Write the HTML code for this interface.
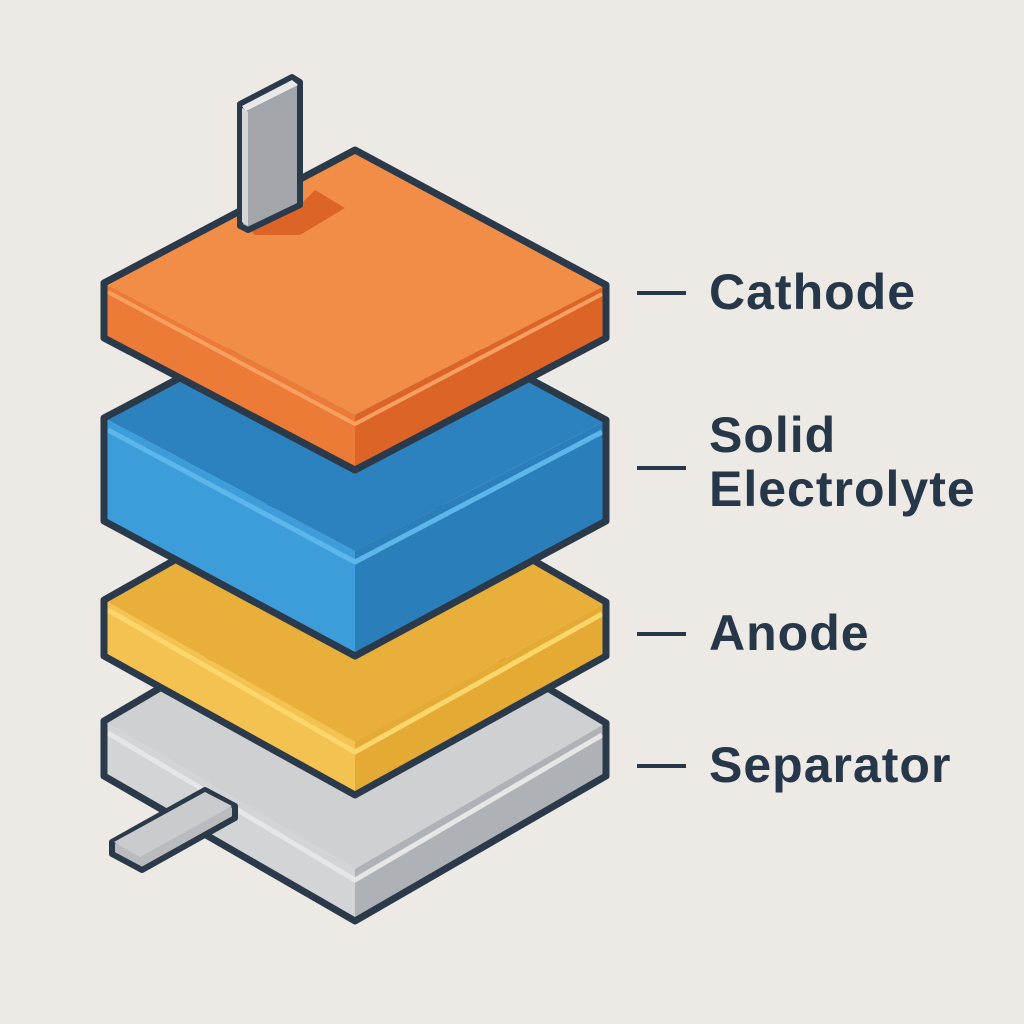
<!DOCTYPE html>
<html><head><meta charset="utf-8"><style>
html,body{margin:0;padding:0;background:#ede9e5;}
svg{display:block}
text{font-family:"Liberation Sans",sans-serif;font-weight:bold;fill:#26374a;font-size:50px;letter-spacing:1px}
</style></head><body>
<svg width="1024" height="1024" viewBox="0 0 1024 1024" xmlns="http://www.w3.org/2000/svg">
<rect width="1024" height="1024" fill="#ede9e5"/>
<g stroke-linejoin="round">
<polygon points="104,721 355,573 606,723 355,869" fill="#cfd0d1"/>
<polygon points="104,721 355,869 355,921 104,776" fill="#d3d4d5"/>
<polygon points="355,869 606,723 606,776 355,921" fill="#aeb1b5"/>
<polyline points="108,733 355,880 602,735" fill="none" stroke="#e6e6e6" stroke-width="5"/>
<polygon points="104,721 355,573 606,723 606,776 355,921 104,776" fill="none" stroke="#2b3a4a" stroke-width="7"/>
<polygon points="112,842 205,790 235,806 235,818 142,870 112,854" fill="#b9bbbe" stroke="#2b3a4a" stroke-width="6"/>
<polygon points="114,842 205,792 232,806 140,857" fill="#c9cbcd"/>
<polygon points="104,600 355,458 606,602 355,742" fill="#e8b03a"/>
<polygon points="104,600 355,742 355,795 104,656" fill="#f3c251"/>
<polygon points="355,742 606,602 606,656 355,795" fill="#e4aa34"/>
<polyline points="108,610 355,752 602,614" fill="none" stroke="#fbd66b" stroke-width="5"/>
<polygon points="104,600 355,458 606,602 606,656 355,795 104,656" fill="none" stroke="#2b3a4a" stroke-width="7"/>
<polygon points="104,418 355,285 606,420 355,551" fill="#2c82bf"/>
<polygon points="104,418 355,551 355,656 104,521" fill="#3d9dda"/>
<polygon points="355,551 606,420 606,521 355,656" fill="#2a7fba"/>
<polyline points="108,430 355,562 602,432" fill="none" stroke="#5cb6ea" stroke-width="5"/>
<polygon points="104,418 355,285 606,420 606,521 355,656 104,521" fill="none" stroke="#2b3a4a" stroke-width="7"/>
<polygon points="104,283 355,150 606,285 355,415" fill="#f28d48"/>
<polygon points="104,283 355,415 355,470 104,338" fill="#eb7b36"/>
<polygon points="355,415 606,285 606,338 355,470" fill="#dd6427"/>
<polyline points="108,292 355,424 602,294" fill="none" stroke="#f8a061" stroke-width="4"/>
<polygon points="104,283 355,150 606,285 606,338 355,470 104,338" fill="none" stroke="#2b3a4a" stroke-width="7"/>
<polygon points="250,230 300,205 315,190 345,208 300,235 255,235" fill="#dc6426"/>
<polygon points="240,104 292,77 300,82 300,205 248,230 240,226" fill="#a2a6ab" stroke="#2b3a4a" stroke-width="6"/>
<polygon points="242,106 292,80 298,85 246,111" fill="#e8e8e8"/>
<polygon points="242,108 248,112 248,226 242,222" fill="#d4d6d8"/>
</g>
<g>
<line x1="637" y1="293" x2="686" y2="293" stroke="#26374a" stroke-width="4"/>
<line x1="637" y1="468" x2="686" y2="468" stroke="#26374a" stroke-width="4"/>
<line x1="637" y1="634" x2="686" y2="634" stroke="#26374a" stroke-width="4"/>
<line x1="637" y1="766" x2="686" y2="766" stroke="#26374a" stroke-width="4"/>
<text x="709" y="309">Cathode</text>
<text x="709" y="452">Solid</text>
<text x="709" y="506">Electrolyte</text>
<text x="709" y="650">Anode</text>
<text x="709" y="782">Separator</text>
</g>
</svg>
</body></html>
